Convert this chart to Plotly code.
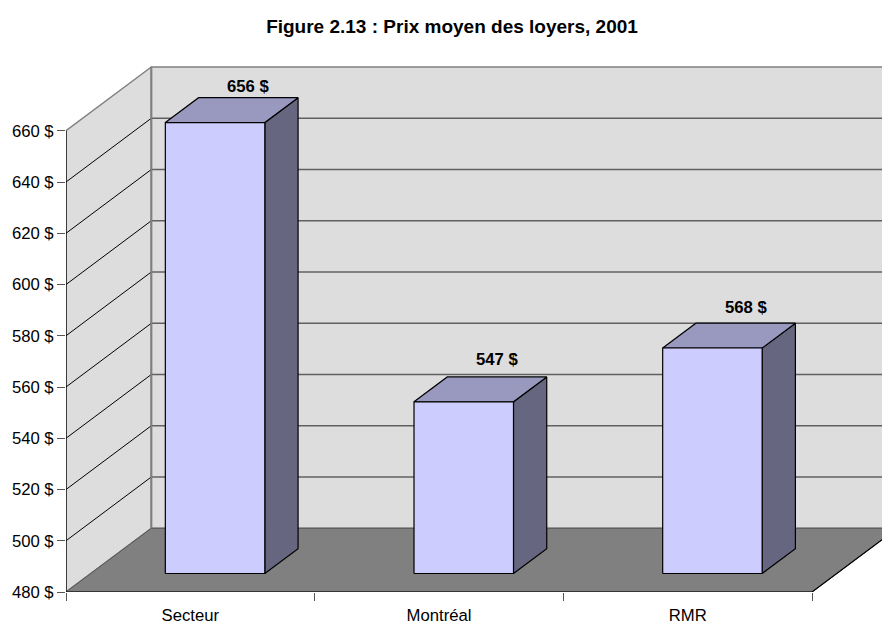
import plotly.graph_objects as go

# Average rent by area, 2001
categories = ["Secteur", "Montréal", "RMR"]
loyers = [656, 547, 568]
value_labels = ["656 $", "547 $", "568 $"]

y_ticks = [480, 500, 520, 540, 560, 580, 600, 620, 640, 660]
y_tick_labels = ["480 $", "500 $", "520 $", "540 $", "560 $", "580 $",
                 "600 $", "620 $", "640 $", "660 $"]

# --- oblique projection set-up (axis units) ---
CAT_PX = 248.67          # pixels per category
Y_PX = 2.572             # pixels per dollar
DX = 85.3 / CAT_PX       # depth offset along x (full depth)
DY = 64.0 / Y_PX         # depth offset along y (full depth)
Y_MIN, Y_MAX = y_ticks[0], y_ticks[-1]
N = len(categories)

BAR_W = 0.4              # bar width in category units
BAR_FRONT = 0.29         # depth fraction of bar front face
BAR_DEPTH = 0.39         # depth fraction covered by bar
LABEL_SHIFT = [11, 17, 16]

FRONT_COL = "#CCCCFF"
TOP_COL = "#9999C0"
SIDE_COL = "#666680"
WALL_COL = "#DDDDDD"
FLOOR_COL = "#808080"
EDGE_COL = "#808080"

fig = go.Figure()


def poly(xs, ys, fill, line_col, width=1.0):
    fig.add_trace(go.Scatter(
        x=list(xs) + [xs[0]], y=list(ys) + [ys[0]],
        mode="lines", fill="toself", fillcolor=fill,
        line=dict(color=line_col, width=width),
        hoverinfo="skip", showlegend=False))


def seg(xs, ys, col, width=1.0):
    fig.add_trace(go.Scatter(
        x=xs, y=ys, mode="lines", line=dict(color=col, width=width),
        hoverinfo="skip", showlegend=False))


# back wall
poly([DX, N + DX, N + DX, DX],
     [Y_MIN + DY, Y_MIN + DY, Y_MAX + DY, Y_MAX + DY], WALL_COL, EDGE_COL, 1.5)
# left side wall
poly([0, DX, DX, 0], [Y_MIN, Y_MIN + DY, Y_MAX + DY, Y_MAX], WALL_COL, EDGE_COL, 1.5)

# gridlines on both walls
for v in y_ticks[1:-1]:
    seg([DX, N + DX], [v + DY, v + DY], "#606060", 1.6)
    seg([0, DX], [v, v + DY], "#000000", 1.0)

# floor
poly([0, N, N + DX, DX], [Y_MIN, Y_MIN, Y_MIN + DY, Y_MIN + DY], FLOOR_COL, "#555555", 1.0)
seg([0, N, N + DX], [Y_MIN, Y_MIN, Y_MIN + DY], "#000000", 1.2)
seg([DX, DX], [Y_MIN + DY, Y_MAX + DY], EDGE_COL, 2.0)
seg([0, 0], [Y_MIN, Y_MAX], "#000000", 1.2)

# bars
ox, oy = BAR_FRONT * DX, BAR_FRONT * DY
bx, by = BAR_DEPTH * DX, BAR_DEPTH * DY
for i, v in enumerate(loyers):
    x0 = i + (1 - BAR_W) / 2 + ox
    x1 = x0 + BAR_W
    y0 = Y_MIN + oy
    y1 = v + oy
    # right side
    poly([x1, x1 + bx, x1 + bx, x1], [y0, y0 + by, y1 + by, y1], SIDE_COL, "#000000", 1.2)
    # top
    poly([x0, x1, x1 + bx, x0 + bx], [y1, y1, y1 + by, y1 + by], TOP_COL, "#000000", 1.2)
    # front
    poly([x0, x1, x1, x0], [y0, y0, y1, y1], FRONT_COL, "#000000", 1.2)
    fig.add_annotation(
        x=(x0 + x1) / 2 + bx, y=y1 + by, text=value_labels[i],
        showarrow=False, yanchor="middle", yshift=LABEL_SHIFT[i],
        font=dict(family="Liberation Sans, Arial, sans-serif", size=16.7, color="#000000"),
        xanchor="center")
    fig.layout.annotations[-1].text = "<b>" + value_labels[i] + "</b>"

plot_w = 882 - 66
plot_h = 625 - 60 - 31

fig.update_layout(
    width=882, height=625,
    margin=dict(l=66, r=0, t=60, b=31),
    paper_bgcolor="white", plot_bgcolor="white",
    font=dict(family="Liberation Sans, Arial, sans-serif", size=16.7, color="#000000"),
    title=dict(text="<b>Figure 2.13 : Prix moyen des loyers, 2001</b>",
               x=452 / 882, xanchor="center", xref="container",
               y=1 - 26 / 625, yanchor="middle", yref="container",
               font=dict(size=19, family="Liberation Sans, Arial, sans-serif")),
    xaxis=dict(
        range=[0, plot_w / CAT_PX], showgrid=False, zeroline=False, showline=False,
        tickmode="array", tickvals=[i + 0.5 for i in range(N)], ticktext=categories,
        ticks="outside", ticklen=8, tickcolor="rgba(0,0,0,0)",
        minor=dict(tickmode="linear", tick0=0, dtick=1, ticks="outside",
                   ticklen=8, tickcolor="#555555", tickwidth=1, showgrid=False),
        fixedrange=True),
    yaxis=dict(
        range=[Y_MIN, Y_MIN + plot_h / Y_PX], showgrid=False, zeroline=False, showline=False,
        tickmode="array", tickvals=y_ticks, ticktext=y_tick_labels,
        ticks="outside", ticklen=8, tickcolor="#555555", tickwidth=1,
        fixedrange=True),
)

fig.write_html("out.html")
